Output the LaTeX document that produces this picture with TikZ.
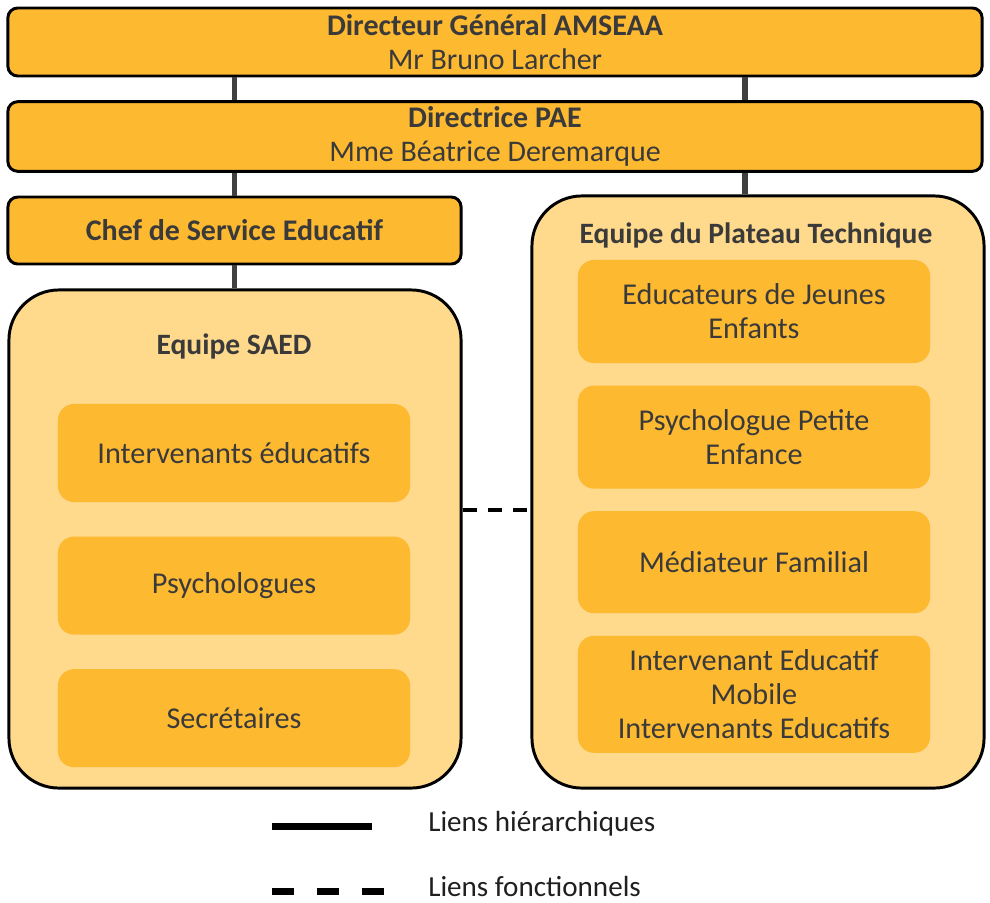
\documentclass[tikz,border=0pt]{standalone}
\usepackage{fontspec}
\setmainfont{Carlito}
\usepackage{tikz}
\usetikzlibrary{positioning}
\definecolor{saedorange}{HTML}{FDB930}
\definecolor{saedlight}{HTML}{FFD98C}
\definecolor{saedtext}{HTML}{3A3A3A}
\definecolor{saedline}{HTML}{404040}
\tikzstyle{headbox} = [rectangle, draw=black, line width=2.1pt, rounded corners=7pt,
    fill=saedorange, text=saedtext, align=center, minimum height=1.7cm,
    font=\fontsize{21.3}{24.5}\selectfont]
\tikzstyle{teambox} = [rectangle, draw=black, line width=2.1pt, rounded corners=1.25cm,
    fill=saedlight, minimum width=11.3cm]
\tikzstyle{unitbox} = [rectangle, rounded corners=0.4cm, fill=saedorange, text=saedtext,
    align=center, minimum width=8.8cm, font=\fontsize{21.5}{24.2}\selectfont]
\tikzstyle{teamtitle} = [text=saedtext, font=\fontsize{21}{24}\selectfont\bfseries]
\tikzstyle{hline} = [line width=3.6pt, saedline]
\tikzstyle{fline} = [line width=2.5pt, black, dash pattern=on 0.35cm off 0.28cm]
\tikzstyle{legendtext} = [anchor=west, text=black!88, inner sep=0pt, text depth=0pt,
    font=\fontsize{20.7}{23}\selectfont]

\begin{document}
\begin{tikzpicture}[x=0.025cm, y=-0.025cm, node distance=0.55cm]
\useasboundingbox (0,0) rectangle (990,902);
% direction
\node[headbox, minimum width=24.35cm] (dg) at (495,42)
    {\textbf{Directeur Général AMSEAA}\\Mr Bruno Larcher};
\node[headbox, minimum width=24.35cm, minimum height=1.675cm] (pae) at (495,136.5)
    {\textbf{Directrice PAE}\\Mme Béatrice Deremarque};
\node[headbox, minimum width=11.325cm, minimum height=1.675cm] (chef) at (234.5,230.5)
    {\textbf{Chef de Service Educatif}};

% equipes
\node[teambox, minimum height=12.45cm] (saed) at (235,539) {};
\node[teambox, minimum height=14.8cm] (plateau) at (758,492) {};
\node[teamtitle] (saedtitle) at (234,346) {Equipe SAED};
\node[teamtitle] (plateautitle) at (756,235) {Equipe du Plateau Technique};

\node[unitbox, minimum height=2.45cm] (interv) at (234,453) {Intervenants éducatifs};
\node[unitbox, minimum height=2.45cm, below=0.85cm of interv] (psys) {Psychologues};
\node[unitbox, minimum height=2.45cm, below=0.85cm of psys] (secr) {Secrétaires};

\node[unitbox, minimum height=2.575cm] (eje) at (754,311.5) {Educateurs de Jeunes\\Enfants};
\node[unitbox, minimum height=2.575cm, below=of eje] (psype) {Psychologue Petite\\Enfance};
\node[unitbox, minimum height=2.55cm, below=of psype] (media) {Médiateur Familial};
\node[unitbox, minimum height=2.925cm, below=of media] (iem)
    {Intervenant Educatif\\Mobile\\Intervenants Educatifs};

% liens
\coordinate (rlink) at (745,0);
\draw[hline] (dg.south -| chef) -- (pae.north -| chef);
\draw[hline] (dg.south -| rlink) -- (pae.north -| rlink);
\draw[hline] (pae.south -| chef) -- (chef.north);
\draw[hline] (pae.south -| rlink) -- (plateau.north -| rlink);
\draw[hline] (chef.south) -- (chef.south |- saed.north);
\draw[fline] ([yshift=0.725cm]saed.east) -- ([yshift=0.725cm]saed.east -| plateau.west);

% legende
\coordinate (hstart) at (272,826);
\coordinate (hend) at (372,826);
\coordinate (fstart) at (272,891);
\coordinate (fend) at (386,891);
\draw[line width=5pt, black] (hstart) -- (hend);
\draw[line width=5pt, black, dash pattern=on 0.55cm off 0.57cm] (fstart) -- (fend);
\node[legendtext] (hlabel) at (428,821) {Liens hiérarchiques};
\node[legendtext] (flabel) at (428,886) {Liens fonctionnels};
\end{tikzpicture}
\end{document}
